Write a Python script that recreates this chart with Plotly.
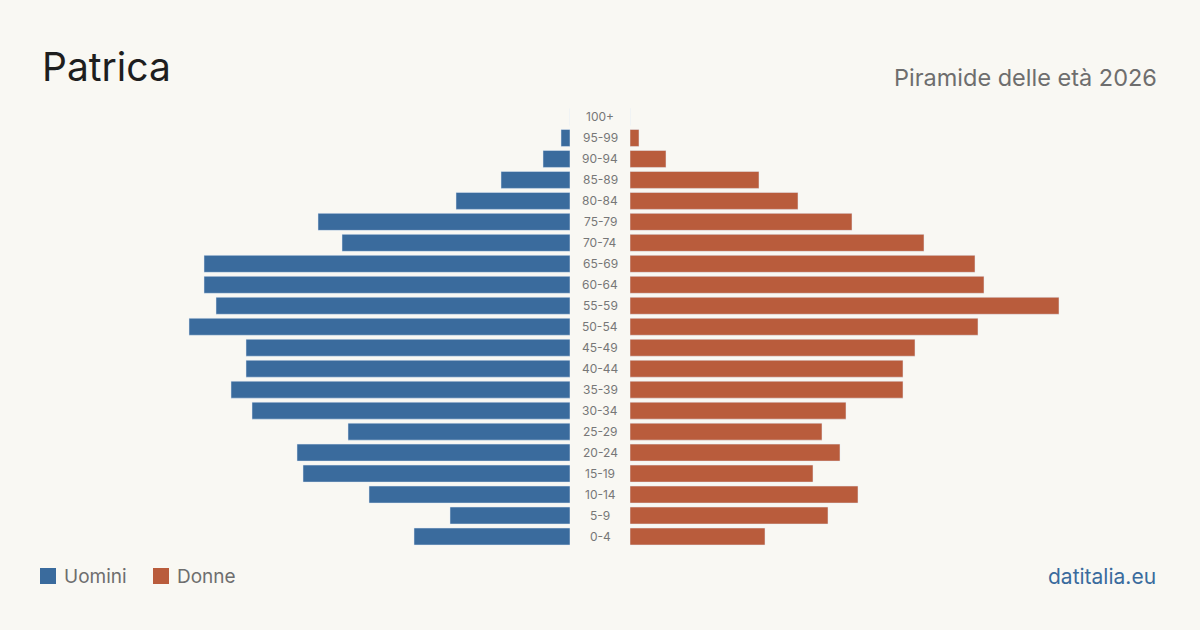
import plotly.graph_objects as go
from plotly.subplots import make_subplots

age_groups = ["0-4", "5-9", "10-14", "15-19", "20-24", "25-29", "30-34", "35-39",
              "40-44", "45-49", "50-54", "55-59", "60-64", "65-69", "70-74",
              "75-79", "80-84", "85-89", "90-94", "95-99", "100+"]
uomini = [52, 40, 67, 89, 91, 74, 106, 113, 108, 108, 127, 118, 122, 122, 76,
          84, 38, 23, 9, 3, 0]
donne = [45, 66, 76, 61, 70, 64, 72, 91, 91, 95, 116, 143, 118, 115, 98,
         74, 56, 43, 12, 3, 0]

BLUE = "#3a6b9d"
ORANGE = "#b95c3c"
BG = "#f9f8f3"
FONT = "Inter"

W, H = 1200, 630
y_top, y_bot = 106.5, 547.0

fig = make_subplots(rows=1, cols=2, shared_yaxes=False, horizontal_spacing=0)

fig.add_trace(go.Bar(y=age_groups, x=uomini, orientation="h", marker_color=BLUE,
                     name="Uomini", showlegend=False, hoverinfo="x+y"), row=1, col=1)
fig.add_trace(go.Bar(y=age_groups, x=donne, orientation="h", marker_color=ORANGE,
                     name="Donne", showlegend=False, hoverinfo="x+y"), row=1, col=2)

ydom = [1 - y_bot / H, 1 - y_top / H]
fig.update_layout(
    width=W, height=H,
    margin=dict(l=0, r=0, t=0, b=0),
    paper_bgcolor=BG, plot_bgcolor=BG,
    bargap=0.19,
    font=dict(family=FONT, color="#777777"),
    xaxis=dict(domain=[0, 570 / W], range=[190, 0], visible=False, fixedrange=True),
    xaxis2=dict(domain=[630 / W, 1], range=[0, 190], visible=False, fixedrange=True),
    yaxis=dict(domain=ydom, visible=False, categoryorder="array",
               categoryarray=age_groups, range=[-0.5, 20.5]),
    yaxis2=dict(domain=ydom, visible=False, categoryorder="array",
                categoryarray=age_groups, range=[-0.5, 20.5]),
)

# Age labels in the middle
for ag in age_groups:
    fig.add_annotation(x=600 / W, xref="paper", y=ag, yref="y", text=ag,
                       showarrow=False, xanchor="center", yanchor="middle",
                       font=dict(size=12, color="#777777", family=FONT))

# Title & subtitle
fig.add_annotation(x=40 / W, y=1 - 67 / H, xref="paper", yref="paper", text="Patrica",
                   showarrow=False, xanchor="left", yanchor="middle",
                   font=dict(size=39, color="#1e1e1e", family=FONT))
fig.add_annotation(x=1159 / W, y=1 - 77 / H, xref="paper", yref="paper",
                   text="Piramide delle età 2026", showarrow=False,
                   xanchor="right", yanchor="middle",
                   font=dict(size=23.5, color="#6e6e6e", family=FONT))

# Legend (manual)
for x0, col, label in [(40, BLUE, "Uomini"), (153, ORANGE, "Donne")]:
    fig.add_shape(type="rect", xref="paper", yref="paper",
                  x0=x0 / W, x1=(x0 + 16) / W, y0=1 - 584 / H, y1=1 - 568 / H,
                  fillcolor=col, line=dict(width=0))
    fig.add_annotation(x=(x0 + 22) / W, y=1 - 576 / H, xref="paper", yref="paper",
                       text=label, showarrow=False, xanchor="left", yanchor="middle",
                       font=dict(size=19, color="#6e6e6e", family=FONT))

fig.add_annotation(x=1158 / W, y=1 - 576 / H, xref="paper", yref="paper",
                   text="datitalia.eu", showarrow=False, xanchor="right",
                   yanchor="middle", font=dict(size=21, color=BLUE, family=FONT))

fig.write_html("out.html")
